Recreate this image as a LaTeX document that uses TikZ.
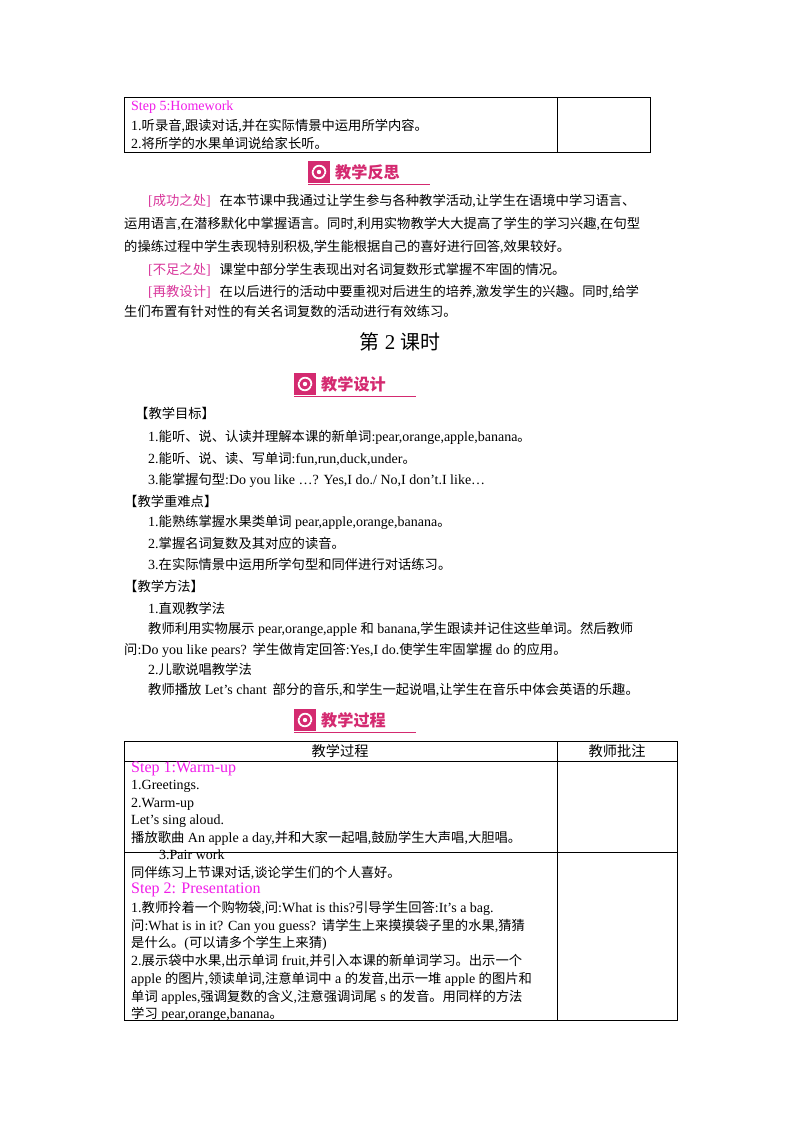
\documentclass[tikz,border=0pt]{standalone}
\usepackage{fontspec}
\setmainfont{Liberation Serif}
\newfontfamily\cjkfont{Noto Sans CJK SC}[Scale=0.95]
\newfontfamily\latfont{Liberation Serif}
\newfontfamily\banfont{Noto Sans CJK SC}[BoldFont={* Bold}]
\XeTeXinterchartokenstate=1
\newXeTeXintercharclass\CJKcls
\count255="2E80
\loop \XeTeXcharclass\count255=\CJKcls \ifnum\count255<"9FFF \advance\count255 1 \repeat
\count255="FF00
\loop \XeTeXcharclass\count255=\CJKcls \ifnum\count255<"FFEF \advance\count255 1 \repeat
\XeTeXinterchartoks 0 \CJKcls = {\cjkfont}
\XeTeXinterchartoks 4095 \CJKcls = {\cjkfont}
\XeTeXinterchartoks \CJKcls 0 = {\latfont}
\XeTeXinterchartoks \CJKcls 4095 = {\latfont}
\definecolor{stepc}{HTML}{F01CE8}
\definecolor{brk}{HTML}{D8359A}
\definecolor{ban}{HTML}{D42A70}
\tikzset{
 x=1pt,y=-1pt,
 tx/.style={anchor=west,inner sep=0pt,font=\fontsize{14}{16}\selectfont},
 cell/.style={draw=black,line width=1pt},
 bantext/.style={anchor=west,inner sep=0pt,text=ban,font=\banfont\bfseries\fontsize{17}{19}\selectfont},
}
\newcommand\T[4]{\node[tx] (#1) at (#2,#3) {#4};}
\begin{document}
\begin{tikzpicture}
\useasboundingbox (0,0) rectangle (800,1132);
% top table
\draw[cell] (124,97) rectangle (650,152);
\draw[cell] (557,97) -- (557,152);
\T{s5}{131}{107}{\textcolor{stepc}{Step 5:Homework}}
\T{s5a}{131}{126}{1.听录音,跟读对话,并在实际情景中运用所学内容。}
\T{s5b}{131}{143}{2.将所学的水果单词说给家长听。}
% banner 1
\fill[ban] (308,161) rectangle ++(22,22);
\fill[white] (319,172) circle (2.2);
\draw[white,line width=1.8pt] (313,170) arc (200:20:6.2);
\draw[white,line width=1.8pt] (325,174) arc (20:-160:6.2);
\draw[ban,line width=0.8pt] (308,184) -- (430,184);
\node[bantext] (b1) at (335,172) {教学反思};
\T{p1}{148}{201}{\textcolor{brk}{[成功之处]}\hspace{9pt}在本节课中我通过让学生参与各种教学活动,让学生在语境中学习语言、}
\T{p2}{124}{224}{运用语言,在潜移默化中掌握语言。同时,利用实物教学大大提高了学生的学习兴趣,在句型}
\T{p3}{124}{247}{的操练过程中学生表现特别积极,学生能根据自己的喜好进行回答,效果较好。}
\T{p4}{148}{270}{\textcolor{brk}{[不足之处]}\hspace{9pt}课堂中部分学生表现出对名词复数形式掌握不牢固的情况。}
\T{p5}{148}{292}{\textcolor{brk}{[再教设计]}\hspace{9pt}在以后进行的活动中要重视对后进生的培养,激发学生的兴趣。同时,给学}
\T{p6}{124}{311}{生们布置有针对性的有关名词复数的活动进行有效练习。}
\node[inner sep=0pt,font=\fontsize{21}{23}\selectfont] (title) at (400,342) {第 2 课时};
% banner 2
\fill[ban] (294,373) rectangle ++(22,22);
\fill[white] (305,384) circle (2.2);
\draw[white,line width=1.8pt] (299,382) arc (200:20:6.2);
\draw[white,line width=1.8pt] (311,386) arc (20:-160:6.2);
\draw[ban,line width=0.8pt] (294,396) -- (416,396);
\node[bantext] (b2) at (321,384) {教学设计};
\T{h1}{135}{413}{【教学目标】}
\T{g1}{148}{437}{1.能听、说、认读并理解本课的新单词:pear,orange,apple,banana。}
\T{g2}{148}{459}{2.能听、说、读、写单词:fun,run,duck,under。}
\T{g3}{148}{480}{3.能掌握句型:Do you like …? Yes,I do./ No,I don’t.I like…}
\T{h2}{124}{501}{【教学重难点】}
\T{k1}{148}{522}{1.能熟练掌握水果类单词 pear,apple,orange,banana。}
\T{k2}{148}{543}{2.掌握名词复数及其对应的读音。}
\T{k3}{148}{564}{3.在实际情景中运用所学句型和同伴进行对话练习。}
\T{h3}{124}{586}{【教学方法】}
\T{m1}{148}{608}{1.直观教学法}
\T{m2}{148}{629}{教师利用实物展示 pear,orange,apple 和 banana,学生跟读并记住这些单词。然后教师}
\T{m3}{124}{650}{问:Do you like pears?\hspace{6pt}学生做肯定回答:Yes,I do.使学生牢固掌握 do 的应用。}
\T{m4}{148}{669}{2.儿歌说唱教学法}
\T{m5}{148}{690}{教师播放 Let’s chant\hspace{6pt}部分的音乐,和学生一起说唱,让学生在音乐中体会英语的乐趣。}
% banner 3
\fill[ban] (294,709) rectangle ++(22,22);
\fill[white] (305,720) circle (2.2);
\draw[white,line width=1.8pt] (299,718) arc (200:20:6.2);
\draw[white,line width=1.8pt] (311,722) arc (20:-160:6.2);
\draw[ban,line width=0.8pt] (294,732) -- (416,732);
\node[bantext] (b3) at (321,720) {教学过程};
% bottom table
\draw[cell] (124,741) rectangle (677,1020);
\draw[cell] (557,741) -- (557,1020);
\draw[cell] (124,761) -- (677,761);
\draw[cell] (124,852) -- (677,852);
\node[inner sep=0pt,font=\fontsize{15}{17}\selectfont] (c1) at (340,751) {教学过程};
\node[inner sep=0pt,font=\fontsize{15}{17}\selectfont] (c2) at (617,751) {教师批注};
\T{r1}{131}{769}{\textcolor{stepc}{\fontsize{16}{18}\selectfont Step 1:Warm-up}}
\T{r2}{131}{786}{1.Greetings.}
\T{r3}{131}{804}{2.Warm-up}
\T{r4}{131}{821}{Let’s sing aloud.}
\T{r5}{131}{838}{播放歌曲 An apple a day,并和大家一起唱,鼓励学生大声唱,大胆唱。}
\T{r6}{159}{855}{3.Pair work}
\T{r7}{131}{873}{同伴练习上节课对话,谈论学生们的个人喜好。}
\T{r8}{131}{890}{\textcolor{stepc}{\fontsize{16}{18}\selectfont Step 2: Presentation}}
\T{r9}{131}{908}{1.教师拎着一个购物袋,问:What is this?引导学生回答:It’s a bag.}
\T{r10}{131}{926}{问:What is in it? Can you guess?\hspace{6pt}请学生上来摸摸袋子里的水果,猜猜}
\T{r11}{131}{943}{是什么。(可以请多个学生上来猜)}
\T{r12}{131}{961}{2.展示袋中水果,出示单词 fruit,并引入本课的新单词学习。出示一个}
\T{r13}{131}{979}{apple 的图片,领读单词,注意单词中 a 的发音,出示一堆 apple 的图片和}
\T{r14}{131}{997}{单词 apples,强调复数的含义,注意强调词尾 s 的发音。用同样的方法}
\T{r15}{131}{1014}{学习 pear,orange,banana。}
\end{tikzpicture}
\end{document}
